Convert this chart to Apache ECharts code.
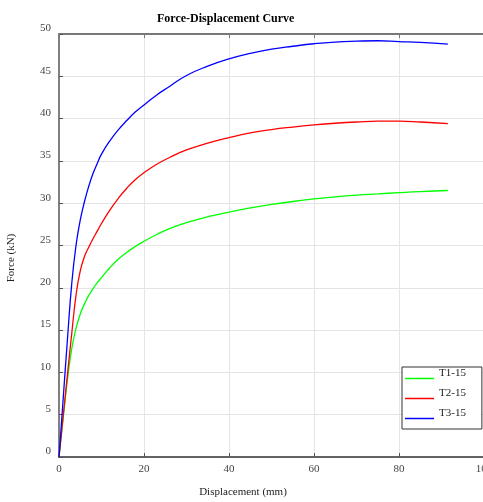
<!DOCTYPE html>
<html>
<head>
<meta charset="utf-8">
<script src="https://cdn.jsdelivr.net/npm/echarts@6/dist/echarts.min.js"></script>
<style>html,body{margin:0;padding:0;background:#fff;}#c{width:483px;height:502px;}</style>
</head>
<body>
<div id="c"></div>
<script>
var displacement = [0, 1, 2, 3, 4, 5, 6, 7, 8, 9, 10, 12, 14, 16, 18, 20, 23, 26, 30, 35, 40, 45, 50, 55, 60, 65, 70, 75, 80, 85, 91.5];
var t1 = [0, 4.7, 9.2, 12.8, 15.2, 16.9, 18.1, 19.1, 19.9, 20.6, 21.2, 22.4, 23.4, 24.2, 24.9, 25.5, 26.3, 27.0, 27.7, 28.4, 28.95, 29.45, 29.85, 30.2, 30.5, 30.75, 30.95, 31.1, 31.25, 31.38, 31.5];
var t2 = [0, 4.9, 9.8, 14.6, 19.1, 22.0, 23.7, 24.8, 25.8, 26.7, 27.6, 29.2, 30.6, 31.8, 32.8, 33.6, 34.6, 35.4, 36.3, 37.1, 37.75, 38.3, 38.7, 39.0, 39.25, 39.45, 39.6, 39.7, 39.7, 39.6, 39.4];
var t3 = [0, 7.0, 14.0, 20.5, 25.0, 28.0, 30.2, 32.0, 33.5, 34.7, 35.8, 37.4, 38.7, 39.8, 40.8, 41.6, 42.8, 43.8, 45.1, 46.2, 47.05, 47.7, 48.2, 48.55, 48.85, 49.05, 49.15, 49.2, 49.1, 49.0, 48.8];
var seriesNames = ['T1-15', 'T2-15', 'T3-15'];
var seriesColors = ['#00ff00', '#ff0000', '#0000ff'];
var xTicks = [0, 20, 40, 60, 80, 100];
var yTicks = [0, 5, 10, 15, 20, 25, 30, 35, 40, 45, 50];

function pairs(ys) { return displacement.map(function (x, i) { return [x, ys[i]]; }); }
var font = 'Liberation Serif, Times New Roman, serif';
var chart = echarts.init(document.getElementById('c'));
var allY = [t1, t2, t3];
chart.setOption({
  animation: false,
  backgroundColor: '#fff',
  title: {
    text: 'Force-Displacement Curve',
    left: 152, top: 8,
    textStyle: { fontFamily: font, fontSize: 12, fontWeight: 'bold', color: '#000' }
  },
  grid: { left: 59, right: -1, top: 34, bottom: 45, containLabel: false, outerBoundsMode: 'none' },
  legend: {
    orient: 'vertical',
    left: 402, top: 367,
    data: seriesNames,
    icon: 'rect',
    itemWidth: 29, itemHeight: 1.5,
    itemGap: -1,
    padding: [1, 16, 0, 3],
    borderColor: '#333', borderWidth: 1,
    backgroundColor: '#fff',
    formatter: function (n) { return n + '\n '; },
    textStyle: { fontFamily: font, fontSize: 11, color: '#222', lineHeight: 10 }
  },
  xAxis: [{
    type: 'value', min: 0, max: 100, interval: 20,
    name: 'Displacement (mm)', nameLocation: 'middle', nameGap: 30,
    nameTextStyle: { fontFamily: font, fontSize: 11, color: '#222', padding: [0, 57, 0, 0] },
    axisLine: { show: true, onZero: false, lineStyle: { color: '#333', width: 1.5 } },
    axisTick: { show: true, inside: true, length: 4, lineStyle: { color: '#555' } },
    axisLabel: { fontFamily: font, fontSize: 11, color: '#444', margin: 7,
      formatter: function (v) { return xTicks.indexOf(v) >= 0 ? String(v) : ''; } },
    splitLine: { show: true, lineStyle: { color: '#e4e4e4', width: 1 } }
  }, {
    type: 'value', position: 'top', min: 0, max: 100, interval: 20,
    axisLine: { show: true, onZero: false, lineStyle: { color: '#777', width: 2 } },
    axisTick: { show: true, inside: true, length: 4, lineStyle: { color: '#777' } },
    axisLabel: { show: false }, splitLine: { show: false }
  }],
  yAxis: {
    type: 'value', min: 0, max: 50, interval: 5,
    name: 'Force (kN)', nameLocation: 'middle', nameGap: 42,
    nameTextStyle: { fontFamily: font, fontSize: 11, color: '#222', padding: [0, 25, 0, 0] },
    axisLine: { show: true, onZero: false, lineStyle: { color: '#808080', width: 2 } },
    axisTick: { show: true, inside: true, length: 4, lineStyle: { color: '#555' } },
    axisLabel: { fontFamily: font, fontSize: 11, color: '#444', margin: 8, verticalAlign: 'bottom',
      formatter: function (v) { return yTicks.indexOf(v) >= 0 ? String(v) : ''; } },
    splitLine: { show: true, lineStyle: { color: '#e4e4e4', width: 1 } }
  },
  series: seriesNames.map(function (n, i) {
    return {
      name: n, type: 'line', data: pairs(allY[i]), smooth: 0.5, showSymbol: false,
      lineStyle: { color: seriesColors[i], width: 1.3 }, itemStyle: { color: seriesColors[i] }
    };
  })
});
</script>
</body>
</html>
